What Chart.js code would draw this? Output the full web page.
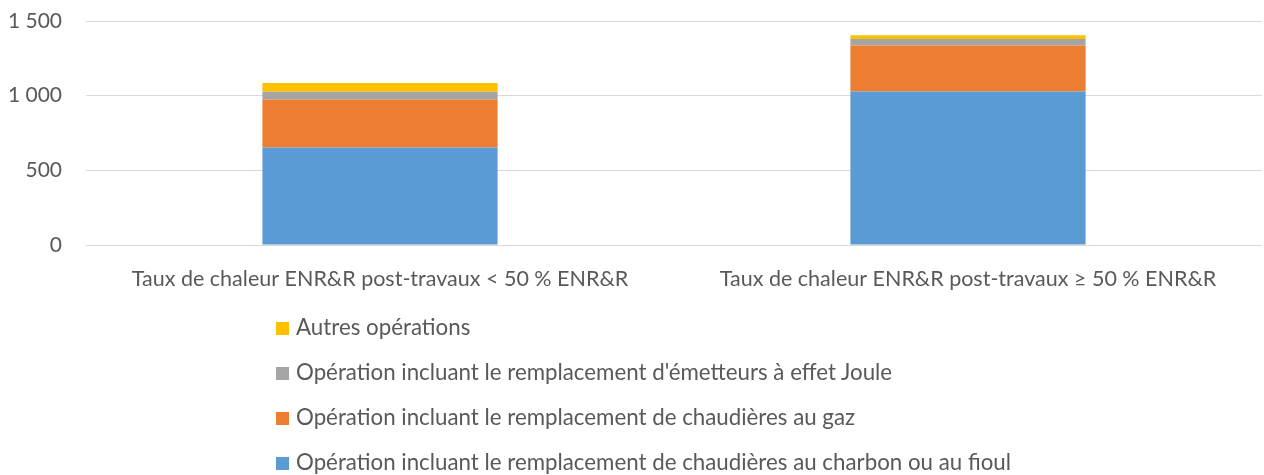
<!DOCTYPE html>
<html>
<head>
<meta charset="utf-8">
<script src="https://cdn.jsdelivr.net/npm/chart.js@4/dist/chart.umd.min.js"></script>
<style>
  html, body { margin: 0; padding: 0; background: #fff; }
  #wrap { position: relative; width: 1264px; height: 475px; }
  #legend { position: absolute; left: 276px; top: 313px; font-family: Lato, sans-serif; font-size: 22.3px; color: #595959; }
  #legend div { height: 45px; display: flex; align-items: flex-start; white-space: nowrap; }
  #legend span.box { display: inline-block; width: 13px; height: 13px; margin-top: 9px; margin-right: 7px; }
</style>
</head>
<body>
<div id="wrap">
  <canvas id="chart" width="1264" height="475"></canvas>
  <div id="legend"></div>
</div>
<script>
// categories and series
const categories = [
  'Taux de chaleur ENR&R post-travaux < 50 % ENR&R',
  'Taux de chaleur ENR&R post-travaux ≥ 50 % ENR&R'
];
const charbonFioul = [653, 1028];
const gaz = [322, 308];
const effetJoule = [51, 44];
const autres = [58, 25];
const yTicks = [0, 500, 1000, 1500];

const fontFamily = 'Lato, sans-serif';
const textColor = '#595959';

const data = {
  labels: categories,
  datasets: [
    { label: 'Opération incluant le remplacement de chaudières au charbon ou au fioul', data: charbonFioul, backgroundColor: '#5b9bd5' },
    { label: 'Opération incluant le remplacement de chaudières au gaz', data: gaz, backgroundColor: '#ed7d31' },
    { label: "Opération incluant le remplacement d'émetteurs à effet Joule", data: effetJoule, backgroundColor: '#a5a5a5' },
    { label: 'Autres opérations', data: autres, backgroundColor: '#ffc000' }
  ]
};

const config = {
  type: 'bar',
  data: data,
  options: {
    responsive: false,
    animation: false,
    categoryPercentage: 1,
    barPercentage: 0.4,
    layout: { padding: { top: 21, right: 2, bottom: 185, left: 0 } },
    scales: {
      x: {
        stacked: true,
        grid: { display: false },
        border: { display: false },
        ticks: { color: textColor, font: { family: fontFamily, size: 21.5 }, padding: 13, maxRotation: 0 },
        afterFit: function(s) { s.height = 45; }
      },
      y: {
        stacked: true,
        min: 0,
        max: 1500,
        afterBuildTicks: function(s) { s.ticks = yTicks.map(v => ({ value: v })); },
        grid: { color: '#d9d9d9', lineWidth: 1, drawTicks: false },
        border: { display: false },
        ticks: {
          color: textColor,
          font: { family: fontFamily, size: 21 },
          padding: 24,
          callback: function(v) { return v.toLocaleString('fr-FR').replace(/\s/g, ' '); }
        },
        afterFit: function(s) {
          s.width = 86;
          // tick padding should only push labels sideways, not the plot down
          s.paddingTop = 0;
          s.paddingBottom = 0;
        }
      }
    },
    plugins: {
      legend: { display: false },
      tooltip: { enabled: false }
    }
  }
};

const ctx = document.getElementById('chart').getContext('2d');
const chart = new Chart(ctx, config);

// legend, listed top to bottom as in the stacked order (reversed)
var legend = document.getElementById('legend');
chart.data.datasets.slice().reverse().forEach(function(ds) {
  var row = document.createElement('div');
  var box = document.createElement('span');
  box.className = 'box';
  box.style.background = ds.backgroundColor;
  row.appendChild(box);
  row.appendChild(document.createTextNode(ds.label));
  legend.appendChild(row);
});
</script>
</body>
</html>
